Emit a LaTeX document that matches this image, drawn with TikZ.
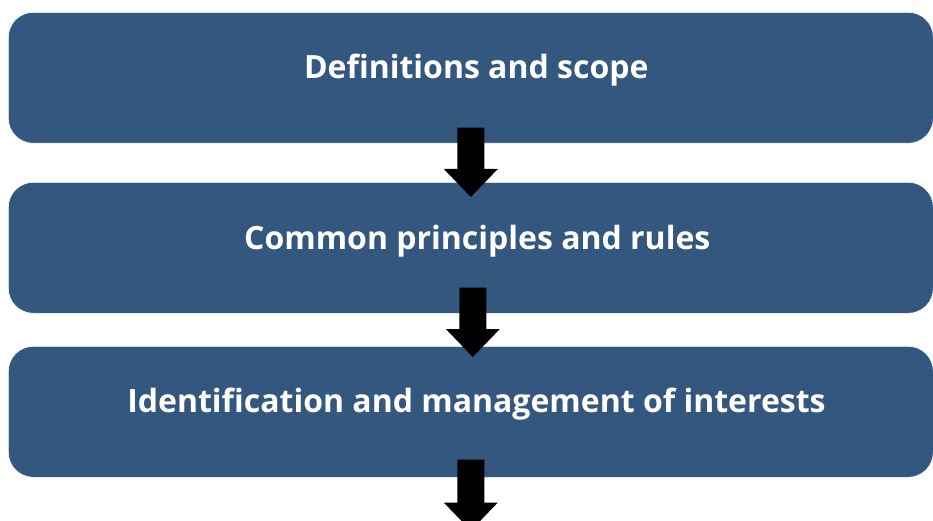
\documentclass[tikz,border=0pt]{standalone}
\usepackage{fontspec}
\setmainfont{Open Sans}[Ligatures=NoCommon]
\usetikzlibrary{calc}
\definecolor{boxblue}{HTML}{34577F}
\tikzset{
  stagebox/.style={rectangle, rounded corners=25pt, fill=boxblue, draw=white, line width=0.6pt,
    minimum width=925pt, minimum height=131pt, anchor=north west, inner sep=0pt},
  stagetext/.style={anchor=base, text=white, font=\fontsize{32}{38}\selectfont\bfseries, inner sep=0pt},
  arrowfill/.style={fill=black}
}
% block arrow from #1 (top of shaft) to #2 (tip)
\newcommand\blockarrow[2]{%
  \fill[arrowfill] ($(#1)+(-13.5,0)$) -- ($(#2)+(-13.5,-28)$) -- ($(#2)+(-27,-28)$) -- (#2)
    -- ($(#2)+(27,-28)$) -- ($(#2)+(13.5,-28)$) -- ($(#1)+(13.5,0)$) -- cycle;}
\begin{document}
\begin{tikzpicture}[x=1pt,y=-1pt]
  \useasboundingbox (0,0) rectangle (933,521);
  \fill[white] (0,0) rectangle (933,521);

  \node[stagebox] (b1) at (8,12) {};
  \node[stagebox] (b2) at (8,182) {};
  \node[stagebox] (b3) at (8,346) {};

  \node[stagetext] (t1) at ($(b1.center)+(5.5,0.5)$) {Definitions and scope};
  \node[stagetext] (t2) at ($(b2.center)+(6.5,1.5)$) {Common principles and rules};
  \node[stagetext] (t3) at ($(b3.center)+(5.7,0.5)$) {Identification and management of interests};

  \coordinate (a1s) at ($(b1.south)+(0,-16)$);
  \coordinate (a1e) at ($(b2.north)+(0,15)$);
  \coordinate (a2s) at ($(b2.south)+(2,-26)$);
  \coordinate (a2e) at ($(b3.north)+(2,11)$);
  \coordinate (a3s) at ($(b3.south)+(0,-18)$);
  \coordinate (a3e) at ($(b3.south)+(0,53)$);

  \blockarrow{a1s}{a1e}
  \blockarrow{a2s}{a2e}
  \blockarrow{a3s}{a3e}
\end{tikzpicture}
\end{document}
